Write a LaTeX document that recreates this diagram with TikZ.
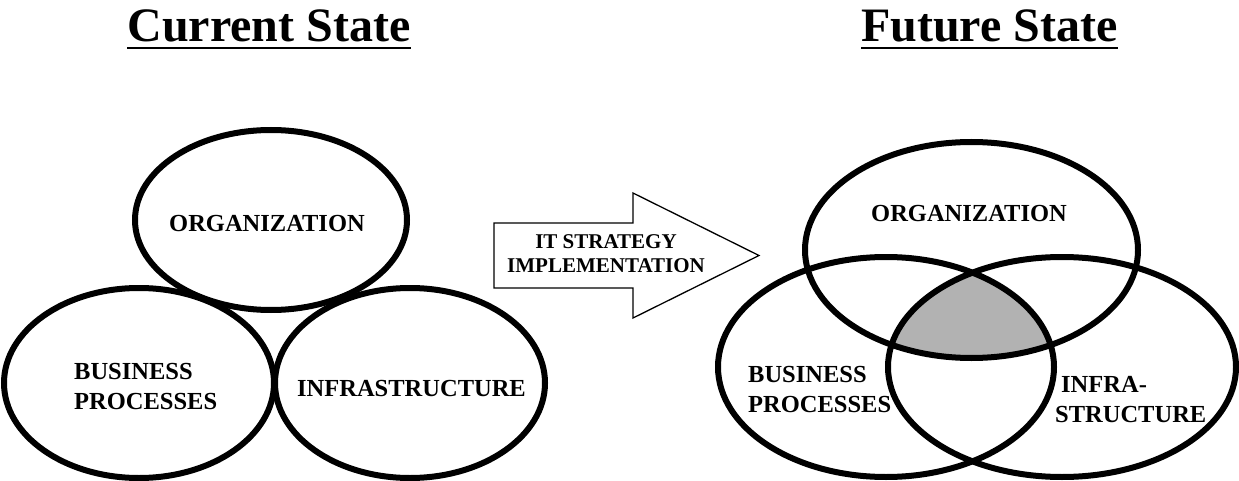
\documentclass[tikz,border=0pt]{standalone}
\usepackage{fontspec}
\setmainfont{Liberation Serif}
\usetikzlibrary{shapes.geometric}
\begin{document}
\begin{tikzpicture}[x=1pt,y=-1pt,
  ring/.style={ellipse, draw=black, line width=6pt, inner sep=0pt},
  lbl/.style={font=\fontsize{24.5}{30}\selectfont\bfseries, inner sep=0pt, anchor=base},
  lbls/.style={font=\fontsize{24.5}{30}\selectfont\bfseries, inner sep=0pt, align=left, anchor=north west},
  ttl/.style={font=\fontsize{48}{52}\selectfont\bfseries, inner sep=0pt, anchor=base},
  arr/.style={font=\fontsize{21}{24}\selectfont\bfseries, inner sep=0pt, align=center, anchor=north},
  uline/.style={line width=2.5pt}
]
\useasboundingbox (0,0) rectangle (1239,481);
\fill[white] (0,0) rectangle (1239,481);

% titles
\node[ttl] (ct) at (269,42) {Current State};
\node[ttl] (ft) at (989.5,42) {Future State};
\draw[uline] ([yshift=-6pt]ct.base west) -- ([yshift=-6pt]ct.base east);
\draw[uline] ([yshift=-6pt]ft.base west) -- ([yshift=-6pt]ft.base east);

% current state
\node[ring, minimum width=272pt, minimum height=180pt] (lorg) at (271,220) {};
\node[ring, minimum width=270pt, minimum height=190pt] (lbus) at (139,383) {};
\node[ring, minimum width=270pt, minimum height=190pt] (linf) at (410,383) {};
\node[lbl] (lorgt) at (267,231) {ORGANIZATION};
\node[lbls] (lbust) at (74,363) {BUSINESS\\PROCESSES};
\node[lbl] (linft) at (411.5,396) {INFRASTRUCTURE};

% arrow
\draw[line width=1.3pt, line join=miter, fill=white]
  (494,223) -- (633,223) -- (633,193) -- (759,255.5) -- (633,318) -- (633,288) -- (494,288) -- cycle;
\node[arr] (at) at (606,234.5) {IT STRATEGY\\IMPLEMENTATION};

% future state: shaded common region
\begin{scope}
  \clip (971.5,250) ellipse [x radius=166.5pt, y radius=108pt];
  \clip (886,367) ellipse [x radius=168pt, y radius=110pt];
  \fill[black!30] (1062,367) ellipse [x radius=174pt, y radius=110pt];
\end{scope}
\node[ring, minimum width=333pt, minimum height=216pt] (rorg) at (971.5,250) {};
\node[ring, minimum width=336pt, minimum height=220pt] (rbus) at (886,367) {};
\node[ring, minimum width=348pt, minimum height=220pt] (rinf) at (1062,367) {};
\node[lbl] (rorgt) at (969,222) {ORGANIZATION};
\node[lbls] (rbust) at (748,366) {BUSINESS\\PROCESSES};
\node[lbls] (rinft) at (1055,376) {\hspace{6pt}INFRA-\\STRUCTURE};
\end{tikzpicture}
\end{document}
